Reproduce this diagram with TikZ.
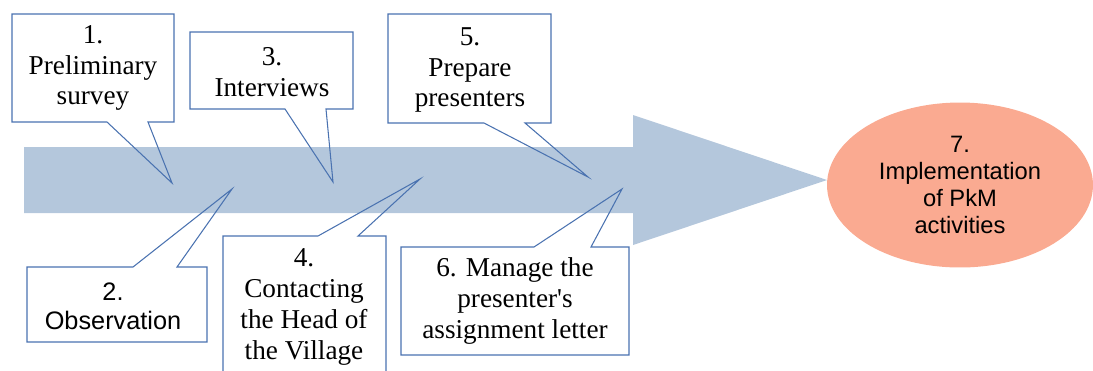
\documentclass[tikz,border=0pt]{standalone}
\usepackage{fontspec}
\setmainfont{Liberation Serif}
\setsansfont{Liberation Sans}
\usetikzlibrary{shapes.geometric}

\definecolor{shaftblue}{RGB}{180,199,220}
\definecolor{lineblue}{RGB}{74,114,176}
\definecolor{goalsalmon}{RGB}{250,170,145}

\begin{document}
\begin{tikzpicture}[
  x=0.02cm, y=-0.02cm,
  bubble/.style={draw=lineblue, line width=0.6pt, line join=miter},
  steptext/.style={align=center, inner sep=0pt, font=\fontsize{15.5}{17.5}\selectfont},
  sanstext/.style={align=center, inner sep=0pt, font=\sffamily\fontsize{14.4}{16.5}\selectfont},
  goal/.style={ellipse, fill=goalsalmon, align=center, inner sep=0pt,
    minimum width=5.32cm, minimum height=3.3cm, font=\sffamily\fontsize{13.5}{15.2}\selectfont}
]
\useasboundingbox (0,0) rectangle (1093,370);

% big arrow
\fill[shaftblue] (24,147) -- (633,147) -- (633,115) -- (827,180)
  -- (633,245) -- (633,213) -- (24,213) -- cycle;

% pointer tips
\coordinate (p1) at (172,183);
\coordinate (p2) at (232,189);
\coordinate (p3) at (333,182);
\coordinate (p4) at (420,179);
\coordinate (p5) at (588,177);
\coordinate (p6) at (622,189);

% callouts above the arrow
\draw[bubble] (12,14) -- (174,14) -- (174,122) -- (148,122) -- (p1) -- (107,122) -- (12,122) -- cycle;
\draw[bubble] (190,32) -- (353,32) -- (353,109) -- (326,109) -- (p3) -- (285,109) -- (190,109) -- cycle;
\draw[bubble] (388,14) -- (551,14) -- (551,123) -- (525,123) -- (p5) -- (484,123) -- (388,123) -- cycle;

% callouts below the arrow
\draw[bubble] (27,267) -- (133,267) -- (p2) -- (177,267) -- (207,267) -- (207,342) -- (27,342) -- cycle;
\draw[bubble] (223,236) -- (318,236) -- (p4) -- (358,236) -- (386,236) -- (386,380) -- (223,380) -- cycle;
\draw[bubble] (401,247) -- (534,247) -- (p6) -- (591,247) -- (629,247) -- (629,355) -- (401,355) -- cycle;

% texts
\node[steptext] (t1) at (93,68) {1.\\Preliminary\\survey};
\node[sanstext] (t2) at (113,306) {2.\\Observation};
\node[steptext] (t3) at (272,72) {3.\\Interviews};
\node[steptext] (t4) at (304,307) {4.\\Contacting\\the Head of\\the Village};
\node[steptext] (t5) at (470,70) {5.\\Prepare\\presenters};
\node[steptext] (t6) at (515,301) {6. Manage the\\presenter\textquotesingle s\\assignment letter};

\node[goal] (g) at (960,185) {7.\\Implementation\\of PkM\\activities};
\end{tikzpicture}
\end{document}
